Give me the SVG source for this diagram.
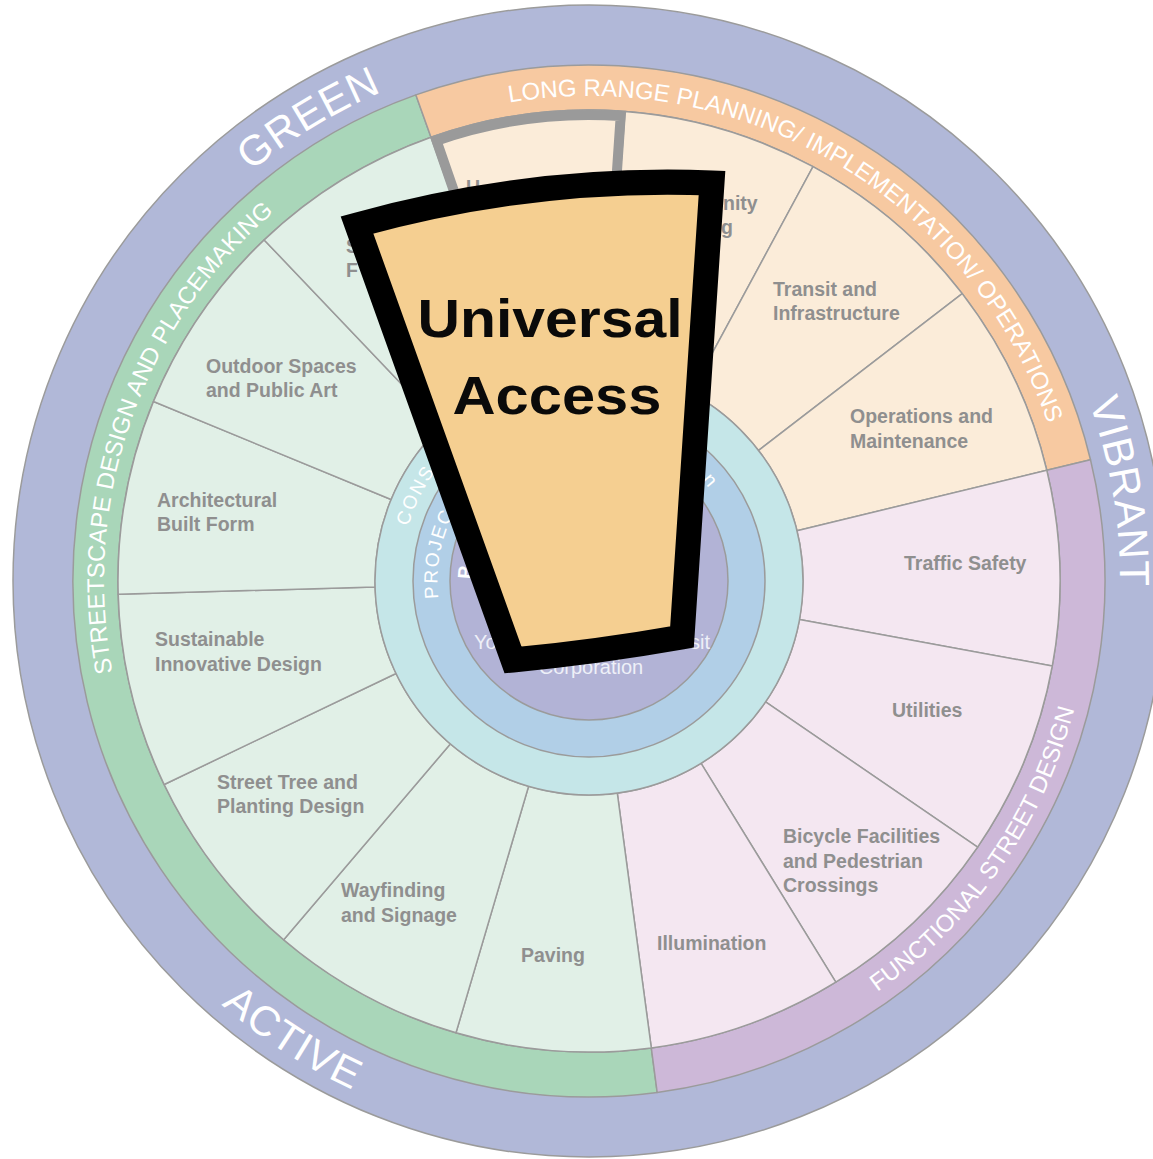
<svg xmlns="http://www.w3.org/2000/svg" width="1153" height="1159" viewBox="0 0 1153 1159">
<style>
.edge{stroke:#9b9b9b;stroke-width:1.5;stroke-linejoin:round}
.cg{fill:#e1f0e7}.co{fill:#fbecd9}.cp{fill:#f4e7f1}
.lbl{font-family:"Liberation Sans",Arial,sans-serif;font-weight:bold;font-size:19.5px;fill:#8f8f8f}
.band{font-family:"Liberation Sans",Arial,sans-serif;font-size:24px;fill:#ffffff}
.big{font-family:"Liberation Sans",Arial,sans-serif;font-size:42px;fill:#ffffff;letter-spacing:1px}
.inr{font-family:"Liberation Sans",Arial,sans-serif;font-size:19px;fill:#ffffff;letter-spacing:2px}
.ctr{font-family:"Liberation Sans",Arial,sans-serif;font-size:20px;fill:#eef0f8}
.ua{font-family:"Liberation Sans",Arial,sans-serif;font-weight:bold;font-size:54px;fill:#0a0a0a}
</style>
<defs>
<path id="pGreen" d="M 58.1,592.1 A 531 531 0 0 1 844.8,115.7"/>
<path id="pVibrant" d="M 775.0,83.6 A 531 531 0 0 1 926.8,990.7"/>
<path id="pActive" d="M 28.7,552.6 A 561 561 0 0 0 844.6,1080.4"/>
<path id="pLong" d="M 352.4,157.6 A 485 485 0 0 1 1074.0,587.8"/>
<path id="pStreet" d="M 221.3,897.3 A 485 485 0 0 1 499.0,104.4"/>
<path id="pFunc" d="M 546.6,1081.2 A 502 502 0 0 0 1043.4,367.7"/>
<path id="pCons" d="M 408.1,526.4 A 189 189 0 0 1 674.2,412.3"/>
<path id="pProj" d="M 438.5,598.4 A 151.5 151.5 0 0 1 649.2,442.0"/>
<path id="pProjN" d="M 701.9,480.0 A 151.5 151.5 0 0 1 740.4,576.2"/>
<path id="pInner" d="M 471.0,579.1 A 118 118 0 0 1 531.7,477.9"/>
</defs>

<g id="outer-ring">
<circle cx="589" cy="581" r="576" fill="#b1b8d8" class="edge"/>
<text class="big"><textPath href="#pGreen" startOffset="50%" text-anchor="middle">GREEN</textPath></text>
<text class="big"><textPath href="#pVibrant" startOffset="50%" text-anchor="middle">VIBRANT</textPath></text>
<text class="big"><textPath href="#pActive" startOffset="50%" text-anchor="middle">ACTIVE</textPath></text>
</g>

<g id="band-streetscape">
<path class="edge" fill="#a9d6b9" d="M 657.2,1092.5 A 516 516 0 0 1 415.9,94.9 L 431.0,137.3 A 471 471 0 0 0 651.3,1047.9 Z"/>
<text class="band"><textPath href="#pStreet" startOffset="50%" text-anchor="middle">STREETSCAPE DESIGN AND PLACEMAKING</textPath></text>
</g>
<g id="band-long-range">
<path class="edge" fill="#f7c9a1" d="M 415.9,94.9 A 516 516 0 0 1 1090.5,459.7 L 1046.8,470.2 A 471 471 0 0 0 431.0,137.3 Z"/>
<text class="band"><textPath href="#pLong" startOffset="50%" text-anchor="middle">LONG RANGE PLANNING/ IMPLEMENTATION/ OPERATIONS</textPath></text>
</g>
<g id="band-functional">
<path class="edge" fill="#cdb8d8" d="M 1090.5,459.7 A 516 516 0 0 1 657.2,1092.5 L 651.3,1047.9 A 471 471 0 0 0 1046.8,470.2 Z"/>
<text class="band"><textPath href="#pFunc" startOffset="50%" text-anchor="middle">FUNCTIONAL STREET DESIGN</textPath></text>
</g>

<g id="cell-universal-access">
<path class="edge co" d="M 431.0,137.3 A 471 471 0 0 1 625.1,111.4 L 605.4,367.6 A 214 214 0 0 0 517.2,379.4 Z"/>
<text class="lbl" x="466" y="194">U</text>
</g>
<g id="cell-community">
<path class="edge co" d="M 625.1,111.4 A 471 471 0 0 1 813.0,166.7 L 690.8,392.8 A 214 214 0 0 0 605.4,367.6 Z"/>
<text class="lbl" x="723" y="210">nity</text>
<text class="lbl" x="721" y="234">g</text>
</g>
<g id="cell-transit">
<path class="edge co" d="M 813.0,166.7 A 471 471 0 0 1 962.2,293.6 L 758.6,450.4 A 214 214 0 0 0 690.8,392.8 Z"/>
<text class="lbl" x="773" y="296">Transit and</text>
<text class="lbl" x="773" y="320">Infrastructure</text>
</g>
<g id="cell-operations">
<path class="edge co" d="M 962.2,293.6 A 471 471 0 0 1 1046.8,470.2 L 797.0,530.7 A 214 214 0 0 0 758.6,450.4 Z"/>
<text class="lbl" x="850" y="423">Operations and</text>
<text class="lbl" x="850" y="448">Maintenance</text>
</g>
<g id="cell-traffic-safety">
<path class="edge cp" d="M 1046.8,470.2 A 471 471 0 0 1 1052.3,666.0 L 799.5,619.6 A 214 214 0 0 0 797.0,530.7 Z"/>
<text class="lbl" x="904" y="570">Traffic Safety</text>
</g>
<g id="cell-utilities">
<path class="edge cp" d="M 1052.3,666.0 A 471 471 0 0 1 977.6,847.1 L 765.6,701.9 A 214 214 0 0 0 799.5,619.6 Z"/>
<text class="lbl" x="892" y="717">Utilities</text>
</g>
<g id="cell-bicycle">
<path class="edge cp" d="M 977.6,847.1 A 471 471 0 0 1 835.8,982.2 L 701.1,763.3 A 214 214 0 0 0 765.6,701.9 Z"/>
<text class="lbl" x="783" y="843">Bicycle Facilities</text>
<text class="lbl" x="783" y="868">and Pedestrian</text>
<text class="lbl" x="783" y="892">Crossings</text>
</g>
<g id="cell-illumination">
<path class="edge cp" d="M 835.8,982.2 A 471 471 0 0 1 651.3,1047.9 L 617.3,793.1 A 214 214 0 0 0 701.1,763.3 Z"/>
<text class="lbl" x="657" y="950">Illumination</text>
</g>
<g id="cell-paving">
<path class="edge cg" d="M 651.3,1047.9 A 471 471 0 0 1 456.0,1032.8 L 528.6,786.3 A 214 214 0 0 0 617.3,793.1 Z"/>
<text class="lbl" x="521" y="962">Paving</text>
</g>
<g id="cell-wayfinding">
<path class="edge cg" d="M 456.0,1032.8 A 471 471 0 0 1 283.7,939.7 L 450.3,744.0 A 214 214 0 0 0 528.6,786.3 Z"/>
<text class="lbl" x="341" y="897">Wayfinding</text>
<text class="lbl" x="341" y="922">and Signage</text>
</g>
<g id="cell-street-tree">
<path class="edge cg" d="M 283.7,939.7 A 471 471 0 0 1 164.2,784.5 L 396.0,673.5 A 214 214 0 0 0 450.3,744.0 Z"/>
<text class="lbl" x="217" y="789">Street Tree and</text>
<text class="lbl" x="217" y="813">Planting Design</text>
</g>
<g id="cell-sustainable">
<path class="edge cg" d="M 164.2,784.5 A 471 471 0 0 1 118.2,594.2 L 375.1,587.0 A 214 214 0 0 0 396.0,673.5 Z"/>
<text class="lbl" x="155" y="646">Sustainable</text>
<text class="lbl" x="155" y="671">Innovative Design</text>
</g>
<g id="cell-architectural">
<path class="edge cg" d="M 118.2,594.2 A 471 471 0 0 1 153.5,401.5 L 391.1,499.5 A 214 214 0 0 0 375.1,587.0 Z"/>
<text class="lbl" x="157" y="507">Architectural</text>
<text class="lbl" x="157" y="531">Built Form</text>
</g>
<g id="cell-outdoor">
<path class="edge cg" d="M 153.5,401.5 A 471 471 0 0 1 264.2,239.9 L 441.4,426.0 A 214 214 0 0 0 391.1,499.5 Z"/>
<text class="lbl" x="206" y="373">Outdoor Spaces</text>
<text class="lbl" x="206" y="397">and Public Art</text>
</g>
<g id="cell-furniture">
<path class="edge cg" d="M 264.2,239.9 A 471 471 0 0 1 431.0,137.3 L 517.2,379.4 A 214 214 0 0 0 441.4,426.0 Z"/>
<text class="lbl" x="346" y="253">S</text>
<text class="lbl" x="346" y="277">F</text>
</g>

<g id="ring-cons">
<circle cx="589" cy="581" r="214" fill="#c5e6e8" class="edge"/>
<text class="inr"><textPath href="#pCons">CONS</textPath></text>
</g>
<g id="ring-project">
<circle cx="589" cy="581" r="176" fill="#b1cfe7" class="edge"/>
<text class="inr"><textPath href="#pProj">PROJEC</textPath></text>
<text class="inr"><textPath href="#pProjN">n</textPath></text>
</g>
<g id="core">
<circle cx="589" cy="581" r="139" fill="#b2b3d6" class="edge"/>
<text class="inr" font-weight="bold"><textPath href="#pInner">P</textPath></text>
<text class="ctr" x="474" y="649">Yo</text>
<text class="ctr" x="710" y="649" text-anchor="end">sit</text>
<text class="ctr" x="591" y="674" text-anchor="middle">Corporation</text>
</g>

<g id="connectors">
<path d="M 436.5,140.7 A 466 466 0 0 1 620.7,116.1 L 603.9,362.5 A 219 219 0 0 0 517.3,374.1 Z" fill="none" stroke="#9a9a9a" stroke-width="10" stroke-linejoin="miter"/>
</g>

<g id="universal-access-highlight">
<path d="M 357,225 Q 534,176 712,183 L 682,637 Q 597,652 513,660 Z" fill="#f5cf91" stroke="#000000" stroke-width="25" stroke-linejoin="miter" stroke-miterlimit="10"/>
<text class="ua" x="550" y="337" text-anchor="middle" textLength="265" lengthAdjust="spacingAndGlyphs">Universal</text>
<text class="ua" x="557" y="414" text-anchor="middle" textLength="209" lengthAdjust="spacingAndGlyphs">Access</text>
</g>
</svg>
